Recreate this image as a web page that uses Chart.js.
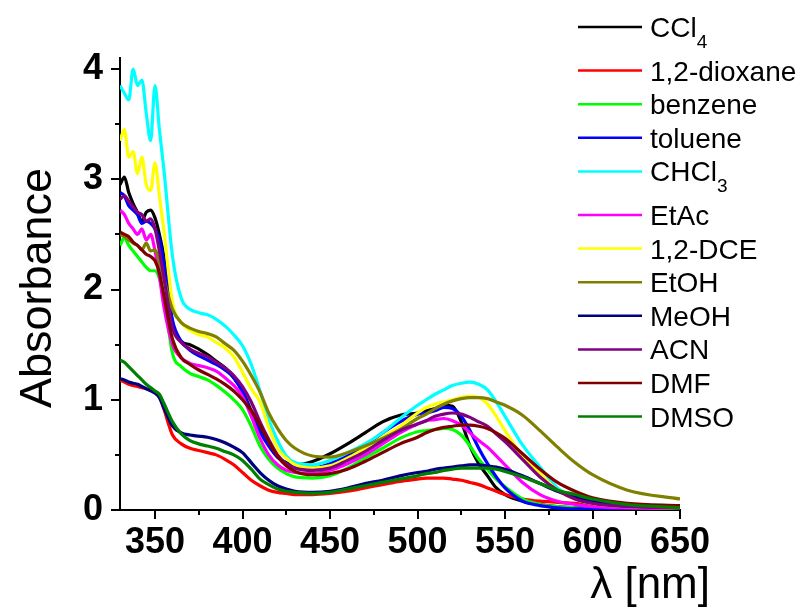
<!DOCTYPE html>
<html>
<head>
<meta charset="utf-8">
<script src="https://cdn.jsdelivr.net/npm/chart.js@4.4.0/dist/chart.umd.min.js"></script>
<style>
  html, body { margin: 0; padding: 0; background: #fff; }
  canvas { display: block; }
</style>
</head>
<body>
<canvas id="chart" width="798" height="610"></canvas>
<script>
// wavelength grid (nm)
const wavelengths = [330, 332.5, 335, 337.5, 340, 342.5, 345, 347.5, 350, 352.5, 355,
  360, 365, 370, 375, 380, 385, 390, 395, 400, 405, 410, 415, 420, 425, 430,
  440, 450, 460, 470, 480, 490, 500, 505, 510, 515, 520, 525, 530, 535, 540, 545, 550,
  560, 570, 580, 590, 600, 620, 650];

const solvents = ['CCl4', '1,2-dioxane', 'benzene', 'toluene', 'CHCl3', 'EtAc',
  '1,2-DCE', 'EtOH', 'MeOH', 'ACN', 'DMF', 'DMSO'];
const colours = ['#000000', '#ff0000', '#00ff00', '#0000ff', '#00ffff', '#ff00ff',
  '#ffff00', '#808000', '#000080', '#800080', '#800000', '#008000'];

const ccl4 = [2.95, 3.02, 2.88, 2.78, 2.7, 2.62, 2.7, 2.72, 2.65, 2.5, 2.3,
  1.7, 1.53, 1.5, 1.46, 1.41, 1.35, 1.29, 1.2, 1.08, 0.9, 0.76, 0.6, 0.48, 0.43, 0.41,
  0.44, 0.51, 0.6, 0.7, 0.8, 0.86, 0.88, 0.9, 0.92, 0.95, 0.94, 0.8, 0.58, 0.42, 0.31, 0.2, 0.14,
  0.08, 0.05, 0.03, 0.02, 0.02, 0.01, 0.01];
const dioxane = [1.18, 1.16, 1.14, 1.13, 1.12, 1.11, 1.1, 1.09, 1.07, 1.03, 0.92,
  0.68, 0.6, 0.56, 0.54, 0.52, 0.5, 0.46, 0.41, 0.34, 0.27, 0.22, 0.18, 0.16, 0.15, 0.14,
  0.14, 0.15, 0.17, 0.2, 0.23, 0.26, 0.28, 0.29, 0.29, 0.29, 0.28, 0.27, 0.25, 0.23, 0.2, 0.17, 0.14,
  0.1, 0.08, 0.07, 0.06, 0.05, 0.04, 0.04];
const benzene = [2.4, 2.47, 2.4, 2.35, 2.3, 2.25, 2.2, 2.17, 2.17, 2.1, 1.95,
  1.42, 1.3, 1.24, 1.21, 1.18, 1.13, 1.07, 1.0, 0.91, 0.76, 0.58, 0.46, 0.38, 0.33, 0.3,
  0.29, 0.31, 0.38, 0.47, 0.56, 0.65, 0.71, 0.72, 0.73, 0.74, 0.73, 0.68, 0.58, 0.46, 0.37, 0.28, 0.21,
  0.1, 0.05, 0.03, 0.02, 0.01, 0.01, 0.01];
const toluene = [2.88, 2.85, 2.76, 2.72, 2.68, 2.6, 2.62, 2.6, 2.55, 2.45, 2.25,
  1.72, 1.53, 1.45, 1.4, 1.36, 1.32, 1.27, 1.2, 1.07, 0.88, 0.71, 0.58, 0.48, 0.42, 0.39,
  0.38, 0.42, 0.49, 0.58, 0.7, 0.8, 0.87, 0.88, 0.9, 0.93, 0.92, 0.85, 0.72, 0.56, 0.42, 0.3, 0.2,
  0.08, 0.04, 0.02, 0.01, 0.01, 0.01, 0.01];
const chcl3 = [3.85, 3.78, 3.72, 4.0, 3.85, 3.9, 3.6, 3.35, 3.85, 3.45, 3.1,
  2.3, 1.92, 1.82, 1.79, 1.77, 1.73, 1.67, 1.59, 1.49, 1.32, 1.08, 0.82, 0.63, 0.49, 0.43,
  0.41, 0.45, 0.52, 0.6, 0.7, 0.83, 0.95, 1.0, 1.05, 1.09, 1.13, 1.15, 1.16, 1.14, 1.09, 0.98, 0.85,
  0.59, 0.39, 0.2, 0.1, 0.06, 0.03, 0.02];
const etac = [2.72, 2.68, 2.6, 2.55, 2.5, 2.55, 2.45, 2.5, 2.35, 2.12, 1.85,
  1.5, 1.38, 1.33, 1.31, 1.29, 1.26, 1.2, 1.13, 1.03, 0.85, 0.65, 0.5, 0.41, 0.36, 0.34,
  0.33, 0.36, 0.42, 0.5, 0.6, 0.7, 0.78, 0.81, 0.82, 0.83, 0.81, 0.77, 0.7, 0.63, 0.57, 0.49, 0.41,
  0.25, 0.14, 0.08, 0.05, 0.03, 0.02, 0.01];
const dce = [3.35, 3.45, 3.2, 3.25, 3.05, 3.2, 2.95, 2.9, 3.15, 2.85, 2.55,
  1.88, 1.7, 1.63, 1.59, 1.57, 1.52, 1.47, 1.39, 1.25, 1.1, 0.98, 0.75, 0.56, 0.47, 0.41,
  0.38, 0.4, 0.47, 0.56, 0.66, 0.76, 0.88, 0.93, 0.96, 0.98, 1.0, 1.02, 1.03, 1.02, 0.96, 0.85, 0.72,
  0.49, 0.33, 0.18, 0.1, 0.06, 0.03, 0.02];
const etoh = [2.5, 2.48, 2.45, 2.42, 2.4, 2.36, 2.42, 2.35, 2.36, 2.25, 2.1,
  1.82, 1.7, 1.65, 1.62, 1.6, 1.57, 1.51, 1.45, 1.35, 1.22, 1.07, 0.88, 0.74, 0.63, 0.56,
  0.49, 0.48, 0.52, 0.58, 0.65, 0.73, 0.83, 0.87, 0.92, 0.96, 0.99, 1.01, 1.02, 1.02, 1.01, 0.98, 0.95,
  0.86, 0.72, 0.57, 0.43, 0.32, 0.18, 0.1];
const meoh = [1.19, 1.18, 1.16, 1.15, 1.14, 1.12, 1.1, 1.08, 1.06, 1.02, 0.93,
  0.76, 0.7, 0.68, 0.67, 0.66, 0.64, 0.61, 0.57, 0.52, 0.43, 0.34, 0.27, 0.22, 0.19, 0.17,
  0.16, 0.17, 0.2, 0.24, 0.27, 0.31, 0.34, 0.35, 0.37, 0.38, 0.39, 0.4, 0.41, 0.41, 0.4, 0.39, 0.37,
  0.31, 0.24, 0.17, 0.12, 0.08, 0.04, 0.02];
const acn = [2.82, 2.85, 2.8, 2.75, 2.7, 2.68, 2.62, 2.64, 2.55, 2.35, 2.12,
  1.65, 1.52, 1.46, 1.42, 1.39, 1.34, 1.29, 1.22, 1.12, 0.98, 0.8, 0.64, 0.5, 0.42, 0.38,
  0.36, 0.38, 0.45, 0.53, 0.63, 0.72, 0.78, 0.81, 0.85, 0.87, 0.88, 0.87, 0.84, 0.8, 0.76, 0.69, 0.62,
  0.46, 0.3, 0.18, 0.1, 0.06, 0.03, 0.02];
const dmf = [2.52, 2.5, 2.48, 2.43, 2.4, 2.36, 2.32, 2.3, 2.26, 2.15, 1.95,
  1.55, 1.38, 1.32, 1.27, 1.23, 1.19, 1.14, 1.08, 1.0, 0.9, 0.77, 0.62, 0.49, 0.4, 0.35,
  0.32, 0.33, 0.37, 0.44, 0.52, 0.6, 0.66, 0.7, 0.73, 0.75, 0.76, 0.77, 0.77, 0.76, 0.74, 0.7, 0.65,
  0.51, 0.37, 0.25, 0.17, 0.11, 0.06, 0.04];
const dmso = [1.36, 1.34, 1.3, 1.26, 1.22, 1.18, 1.14, 1.11, 1.08, 1.05, 0.97,
  0.8, 0.69, 0.63, 0.6, 0.58, 0.56, 0.53, 0.5, 0.45, 0.37, 0.28, 0.23, 0.19, 0.17, 0.16,
  0.15, 0.16, 0.19, 0.22, 0.25, 0.28, 0.31, 0.33, 0.34, 0.36, 0.37, 0.38, 0.38, 0.38, 0.38, 0.37, 0.35,
  0.3, 0.24, 0.18, 0.14, 0.1, 0.05, 0.02];

const spectra = [ccl4, dioxane, benzene, toluene, chcl3, etac, dce, etoh, meoh, acn, dmf, dmso];

const xMajor = [350, 400, 450, 500, 550, 600, 650];
const xMinor = [375, 425, 475, 525, 575, 625];
const yMajor = [0, 1, 2, 3, 4];
const yMinor = [0.5, 1.5, 2.5, 3.5];

const tickFont = { family: "'Liberation Sans Narrow', 'Arial Narrow', 'Liberation Sans', Arial, sans-serif", size: 36, weight: 'bold' };
const textFont = "'Liberation Sans', Arial, sans-serif";

const overlay = {
    id: 'overlay',
    afterDraw(chart) {
        const ctx = chart.ctx;
        const xs = chart.scales.x, ys = chart.scales.y;
        ctx.save();
        ctx.strokeStyle = '#000';
        ctx.lineWidth = 2;
        // minor ticks
        xMinor.forEach(v => {
            const px = Math.round(xs.getPixelForValue(v));
            ctx.beginPath(); ctx.moveTo(px, ys.bottom); ctx.lineTo(px, ys.bottom + 5); ctx.stroke();
        });
        yMinor.forEach(v => {
            const py = Math.round(ys.getPixelForValue(v));
            ctx.beginPath(); ctx.moveTo(xs.left, py); ctx.lineTo(xs.left - 5, py); ctx.stroke();
        });

        // axis titles
        ctx.fillStyle = '#000';
        ctx.font = '45px ' + textFont;
        ctx.save();
        ctx.translate(51, 288);
        ctx.rotate(-Math.PI / 2);
        ctx.textAlign = 'center';
        ctx.textBaseline = 'alphabetic';
        ctx.fillText('Absorbance', 0, 0);
        ctx.restore();

        ctx.textAlign = 'right';
        ctx.textBaseline = 'alphabetic';
        ctx.font = '44px ' + textFont;
        ctx.fillText('λ [nm]', 710, 598);

        // legend
        let ly = 27;
        chart.data.datasets.forEach(ds => {
            ctx.strokeStyle = ds.borderColor;
            ctx.lineWidth = 2.5;
            ctx.beginPath(); ctx.moveTo(578, ly); ctx.lineTo(642, ly); ctx.stroke();
            const m = ds.label.match(/^(.*?)(\d)$/);
            ctx.fillStyle = '#000';
            ctx.textAlign = 'left';
            ctx.textBaseline = 'alphabetic';
            ctx.font = '28px ' + textFont;
            const base = m ? m[1] : ds.label;
            ctx.fillText(base, 650, ly + 10);
            if (m) {
                const w = ctx.measureText(base).width;
                ctx.font = '19px ' + textFont;
                ctx.fillText(m[2], 650 + w, ly + 21);
                ly += 10;
            }
            ly += 33.6;
        });
        ctx.restore();
    }
};

new Chart(document.getElementById('chart').getContext('2d'), {
    type: 'line',
    data: {
        datasets: solvents.map((name, i) => ({
            label: name,
            data: wavelengths.map((w, j) => ({ x: w, y: spectra[i][j] })),
            borderColor: colours[i],
            borderWidth: 3.2,
            pointRadius: 0,
            fill: false,
            cubicInterpolationMode: 'monotone',
            order: solvents.length - i
        }))
    },
    options: {
        responsive: false,
        animation: false,
        devicePixelRatio: 1,
        layout: { padding: { top: 58, right: 118, left: 0, bottom: 0 } },
        plugins: { legend: { display: false }, tooltip: { enabled: false } },
        scales: {
            x: {
                type: 'linear',
                min: 330,
                max: 650,
                afterBuildTicks: scale => { scale.ticks = xMajor.map(v => ({ value: v })); },
                afterFit: scale => { scale.height = 100; },
                border: { color: '#000', width: 2 },
                grid: { drawOnChartArea: false, color: '#000', lineWidth: 2, tickLength: 9 },
                ticks: { color: '#000', font: tickFont, padding: 2, maxRotation: 0 }
            },
            y: {
                min: 0,
                max: 4.1,
                afterBuildTicks: scale => { scale.ticks = yMajor.map(v => ({ value: v })); },
                afterFit: scale => { scale.width = 120; },
                border: { color: '#000', width: 2 },
                grid: { drawOnChartArea: false, color: '#000', lineWidth: 2, tickLength: 9 },
                ticks: { color: '#000', font: tickFont, padding: 8 }
            }
        }
    },
    plugins: [overlay]
});
</script>
</body>
</html>
